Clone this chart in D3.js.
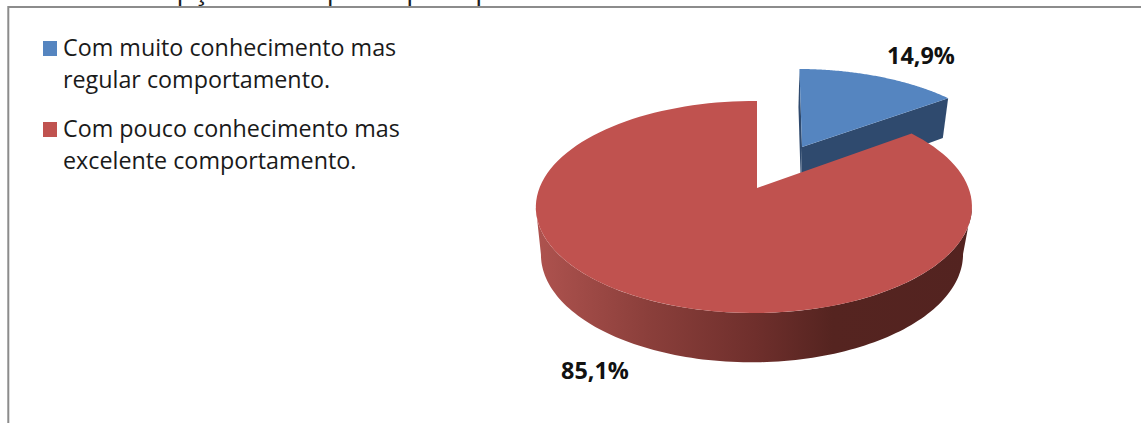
<!DOCTYPE html>
<html>
<head>
<meta charset="utf-8">
<script src="https://cdn.jsdelivr.net/npm/d3@7"></script>
<style>
    html, body { margin: 0; padding: 0; background: #fff; overflow: hidden; }
    svg { display: block; }
    text { font-family: "Open Sans", "Noto Sans", sans-serif; fill: #1a1a1a; }
</style>
</head>
<body>
<div id="chart"></div>
<script>
// Chart values
const categories = ['muito', 'pouco'];
const legendLines = [
    ['Com muito conhecimento mas', 'regular comportamento.'],
    ['Com pouco conhecimento mas', 'excelente comportamento.']
];
const seriesValues = [14.9, 85.1];
const valueLabels = ['14,9%', '85,1%'];
const clippedTitle = 'Gráfico 14 - Opção de empresa por tipo de funcionário';

const width = 1141, height = 423;
const colors = { muito: '#5585c0', pouco: '#c0524f', muitoSide: '#2f4a6e' };

const svg = d3.select('#chart').append('svg')
    .attr('width', width)
    .attr('height', height);

// title is cut off by the crop, only the descenders show
svg.append('text')
    .attr('x', 0)
    .attr('y', 0.4)
    .attr('font-size', 23)
    .attr('textLength', 703)
    .attr('lengthAdjust', 'spacingAndGlyphs')
    .text(clippedTitle);

// frame, open at the right and bottom of the crop
svg.append('rect')
    .attr('x', 8.3).attr('y', 7)
    .attr('width', 1200).attr('height', 600)
    .attr('fill', 'none')
    .attr('stroke', '#8c8c8c')
    .attr('stroke-width', 2);

// perspective projection of a unit disc, (0,0) lands on x0,y0
const tilt = 0.179, lean = 0.014;
function projector(p) {
    return angle => {
        const u = Math.sin(angle), v = Math.cos(angle);
        const d = 1 + tilt * v + lean * u;
        return [p.x0 + (p.a * u + (p.skew || 0) * v) / d, p.y0 - p.b * v / d];
    };
}

const redTopFace = { x0: 757, y0: 188, a: 214.5, b: 102.6 };
const redBottomFace = { x0: 755, y0: 235, a: 207.6, b: 104.5 };
const blueTopFace = { x0: 802, y0: 147, a: 205, b: 92, skew: -3 };
const blueBottomFace = { x0: 801, y0: 190, a: 199, b: 98, skew: -3 };

const redTop = projector(redTopFace);
const redBottom = projector(redBottomFace);
const blueTop = projector(blueTopFace);
const blueBottom = projector(blueBottomFace);

const slices = d3.pie().sort(null)(seriesValues);
const blue = slices[0], red = slices[1];
const line = d3.line();

function sweep(project, from, to) {
    const scale = d3.scaleLinear().domain([0, 120]).range([from, to]);
    return d3.range(121).map(i => project(scale(i)));
}

const defs = svg.append('defs');
const sideGradient = defs.append('linearGradient')
    .attr('id', 'redSide')
    .attr('gradientUnits', 'userSpaceOnUse')
    .attr('x1', 540).attr('x2', 970)
    .attr('y1', 0).attr('y2', 0);
[[0, '#ad524e'], [0.25, '#8b3f3b'], [0.5, '#6f2f2c'], [0.68, '#552420'], [1, '#532320']].forEach(s => {
    sideGradient.append('stop').attr('offset', s[0]).attr('stop-color', s[1]);
});

// blue exploded slice, cut faces first
const blueApexTop = [blueTopFace.x0, blueTopFace.y0];
const blueApexBottom = [blueBottomFace.x0, blueBottomFace.y0];
svg.append('path')
    .attr('fill', colors.muitoSide)
    .attr('d', line([blueApexTop, blueTop(blue.endAngle), blueBottom(blue.endAngle), blueApexBottom]) + 'Z');
svg.append('path')
    .attr('fill', colors.muitoSide)
    .attr('d', line([blueApexTop, blueTop(blue.startAngle), blueBottom(blue.startAngle), blueApexBottom]) + 'Z');
svg.append('path')
    .attr('fill', colors.muito)
    .attr('d', line([blueApexTop].concat(sweep(blueTop, blue.startAngle, blue.endAngle))) + 'Z');

// red slice: rim between the two tangent points, then the top face over it
const tangent = Math.acos(-tilt);
const rimTop = sweep(redTop, tangent, 2 * Math.PI - tangent);
const rimBottom = sweep(redBottom, tangent, 2 * Math.PI - tangent).reverse();
svg.append('path')
    .attr('fill', 'url(#redSide)')
    .attr('d', line(rimTop.concat(rimBottom)) + 'Z');
svg.append('path')
    .attr('fill', colors.pouco)
    .attr('d', line([[redTopFace.x0, redTopFace.y0]].concat(sweep(redTop, red.startAngle, red.endAngle))) + 'Z');

// value labels
const labelPos = [[921, 56], [595, 371]];
svg.selectAll('text.value')
    .data(valueLabels)
    .join('text')
    .attr('class', 'value')
    .attr('x', (d, i) => labelPos[i][0])
    .attr('y', (d, i) => labelPos[i][1])
    .attr('dy', '0.35em')
    .attr('text-anchor', 'middle')
    .attr('font-size', 23.4)
    .attr('font-weight', 'bold')
    .style('fill', '#111')
    .text(d => d);

// legend
const legendY = d3.scalePoint().domain(categories).range([48, 129]);
const legend = svg.selectAll('g.legend')
    .data(categories)
    .join('g')
    .attr('class', 'legend')
    .attr('transform', d => `translate(43,${legendY(d)})`);
legend.append('rect')
    .attr('y', -7)
    .attr('width', 14)
    .attr('height', 15)
    .attr('fill', d => colors[d]);
legend.each(function(d, i) {
    d3.select(this).selectAll('text')
        .data(legendLines[i])
        .join('text')
        .attr('x', 20)
        .attr('y', (t, j) => j * 32)
        .attr('dy', '0.35em')
        .attr('font-size', 23.3)
        .text(t => t);
});
</script>
</body>
</html>
